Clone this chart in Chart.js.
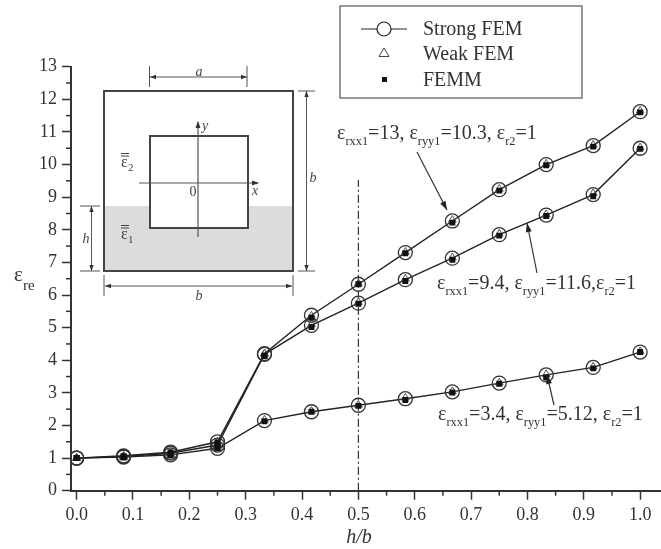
<!DOCTYPE html>
<html>
<head>
<meta charset="utf-8">
<title>Effective permittivity vs h/b</title>
<script src="https://cdn.jsdelivr.net/npm/chart.js@4/dist/chart.umd.js"></script>
<style>
  html, body { margin: 0; padding: 0; background: #fff; }
  canvas { display: block; }
</style>
</head>
<body>
<canvas id="myChart" width="661" height="549"></canvas>
<script>
// h/b values
const hOverB = [0, 0.0833, 0.1667, 0.25, 0.3333, 0.4167, 0.5, 0.5833, 0.6667, 0.75, 0.8333, 0.9167, 1];

// case A: erxx1=13, eryy1=10.3
const strongA = [1.0, 1.07, 1.18, 1.5, 4.2, 5.38, 6.33, 7.3, 8.27, 9.23, 10.0, 10.58, 11.62];
const weakA = [1.0, 1.07, 1.18, 1.5, 4.2, 5.36, 6.35, 7.32, 8.3, 9.25, 10.02, 10.6, 11.65];
const femmA = [1.0, 1.06, 1.17, 1.48, 4.15, 5.3, 6.33, 7.28, 8.22, 9.2, 9.98, 10.55, 11.6];

// case B: erxx1=9.4, eryy1=11.6
const strongB = [1.0, 1.05, 1.15, 1.4, 4.18, 5.07, 5.75, 6.47, 7.13, 7.85, 8.45, 9.08, 10.5];
const weakB = [1.0, 1.05, 1.15, 1.42, 4.2, 5.1, 5.78, 6.5, 7.15, 7.88, 8.47, 9.12, 10.52];
const femmB = [1.0, 1.04, 1.13, 1.38, 4.12, 5.02, 5.73, 6.43, 7.08, 7.82, 8.42, 9.03, 10.48];

// case C: erxx1=3.4, eryy1=5.12
const strongC = [1.0, 1.03, 1.1, 1.3, 2.15, 2.42, 2.62, 2.82, 3.03, 3.3, 3.55, 3.78, 4.25];
const weakC = [1.0, 1.03, 1.1, 1.32, 2.17, 2.44, 2.63, 2.85, 3.05, 3.31, 3.57, 3.8, 4.27];
const femmC = [1.0, 1.02, 1.09, 1.3, 2.13, 2.42, 2.6, 2.78, 3.01, 3.28, 3.47, 3.75, 4.25];

// tick labels
const xTicks = ['0.0', '0.1', '0.2', '0.3', '0.4', '0.5', '0.6', '0.7', '0.8', '0.9', '1.0'];
const yTicks = ['0', '1', '2', '3', '4', '5', '6', '7', '8', '9', '10', '11', '12', '13'];
const xMinorTicks = [0.05, 0.15, 0.25, 0.35, 0.45, 0.55, 0.65, 0.75, 0.85, 0.95];
const yMinorTicks = [0.5, 1.5, 2.5, 3.5, 4.5, 5.5, 6.5, 7.5, 8.5, 9.5, 10.5, 11.5, 12.5];

// dash-dot guide at h/b = 0.5
const guideX = [0.5, 0.5];
const guideY = [0, 9.53];

const serif = '"Liberation Serif", "Times New Roman", serif';
const inkColor = '#333';

function toPoints(xs, ys) {
  return xs.map(function (x, i) { return { x: x, y: ys[i] }; });
}

function strongSet(label, values) {
  return {
    label: label, data: toPoints(hOverB, values), showLine: true,
    borderColor: '#222', borderWidth: 1.4,
    pointStyle: 'circle', pointRadius: 7, pointBorderWidth: 1.3,
    pointBorderColor: '#333', pointBackgroundColor: 'rgba(0,0,0,0)', order: 3
  };
}

function weakSet(label, values) {
  return {
    label: label, data: toPoints(hOverB, values), showLine: false,
    pointStyle: 'triangle', pointRadius: 4.5, pointBorderWidth: 1,
    pointBorderColor: '#555', pointBackgroundColor: 'rgba(0,0,0,0)', order: 2
  };
}

function femmSet(label, values) {
  return {
    label: label, data: toPoints(hOverB, values), showLine: false,
    pointStyle: 'rect', pointRadius: 4.2, pointBorderWidth: 0,
    pointBackgroundColor: '#111', order: 1
  };
}

// Desenha uma sequencia de pedacos de texto, com subscrito quando sub = true
function drawRuns(ctx, x, y, runs, size) {
  ctx.textAlign = 'left';
  ctx.textBaseline = 'alphabetic';
  runs.forEach(function (run) {
    const isSub = run[1] === true;
    const fontSize = isSub ? size * 0.62 : size;
    ctx.font = fontSize + 'px ' + serif;
    ctx.fillText(run[0], x, isSub ? y + 6 : y);
    x += ctx.measureText(run[0]).width;
  });
}

function drawLine(ctx, x1, y1, x2, y2) {
  ctx.beginPath();
  ctx.moveTo(x1, y1);
  ctx.lineTo(x2, y2);
  ctx.stroke();
}

function drawHead(ctx, x1, y1, x2, y2, len, half) {
  const a = Math.atan2(y2 - y1, x2 - x1);
  ctx.beginPath();
  ctx.moveTo(x2, y2);
  ctx.lineTo(x2 - len * Math.cos(a) + half * Math.sin(a), y2 - len * Math.sin(a) - half * Math.cos(a));
  ctx.lineTo(x2 - len * Math.cos(a) - half * Math.sin(a), y2 - len * Math.sin(a) + half * Math.cos(a));
  ctx.closePath();
  ctx.fill();
}

function drawArrow(ctx, x1, y1, x2, y2) {
  drawLine(ctx, x1, y1, x2, y2);
  drawHead(ctx, x1, y1, x2, y2, 9, 3);
}

function drawDimension(ctx, x1, y1, x2, y2) {
  drawLine(ctx, x1, y1, x2, y2);
  drawHead(ctx, x2, y2, x1, y1, 6, 2.2);
  drawHead(ctx, x1, y1, x2, y2, 6, 2.2);
}

function drawTensor(ctx, x, y, sub) {
  ctx.font = '16px ' + serif;
  ctx.fillText('\u03b5', x, y);
  ctx.font = '11px ' + serif;
  ctx.fillText(sub, x + 7, y + 4);
  ctx.lineWidth = 1;
  drawLine(ctx, x, y - 11, x + 8, y - 11);
  drawLine(ctx, x, y - 13.5, x + 8, y - 13.5);
}

// Figura inserida (guia de onda) no canto superior esquerdo
function drawInset(ctx) {
  ctx.fillStyle = '#dcdcdc';
  ctx.fillRect(104, 206, 189, 65);
  ctx.fillStyle = '#fff';
  ctx.fillRect(150, 136, 98, 92);

  ctx.strokeStyle = '#444';
  ctx.lineWidth = 2;
  ctx.strokeRect(104, 91, 189, 180);
  ctx.strokeRect(150, 136, 98, 92);

  ctx.strokeStyle = '#555';
  ctx.fillStyle = '#333';
  ctx.lineWidth = 1.2;
  drawLine(ctx, 198, 237, 198, 122);
  drawHead(ctx, 198, 237, 198, 121, 7, 2.5);
  drawLine(ctx, 139, 183, 258, 183);
  drawHead(ctx, 139, 183, 259, 183, 7, 2.5);

  // cotas
  ctx.lineWidth = 1;
  drawLine(ctx, 149.5, 66, 149.5, 87);
  drawLine(ctx, 247, 66, 247, 87);
  drawDimension(ctx, 150, 77, 247, 77);
  drawLine(ctx, 298, 91, 315, 91);
  drawLine(ctx, 298, 271, 315, 271);
  drawDimension(ctx, 306.5, 91, 306.5, 271);
  drawLine(ctx, 80, 206, 100, 206);
  drawLine(ctx, 80, 271, 100, 271);
  drawDimension(ctx, 91.5, 206, 91.5, 271);
  drawLine(ctx, 104, 275, 104, 296);
  drawLine(ctx, 293, 275, 293, 296);
  drawDimension(ctx, 105, 286, 292, 286);

  ctx.fillStyle = '#444';
  ctx.textAlign = 'center';
  ctx.textBaseline = 'alphabetic';
  ctx.font = 'italic 14px ' + serif;
  ctx.fillText('a', 199, 76);
  ctx.fillText('b', 313, 182);
  ctx.fillText('h', 86, 243);
  ctx.fillText('b', 199, 300);
  ctx.fillText('y', 205, 130);
  ctx.fillText('x', 255, 195);
  ctx.font = '14px ' + serif;
  ctx.fillText('0', 193, 196);
  ctx.textAlign = 'left';
  ctx.strokeStyle = '#444';
  drawTensor(ctx, 121, 167, '2');
  drawTensor(ctx, 121, 239, '1');
}

function drawLegend(ctx) {
  ctx.strokeStyle = '#555';
  ctx.lineWidth = 1.2;
  ctx.strokeRect(340, 6, 242, 92);

  ctx.strokeStyle = '#222';
  ctx.lineWidth = 1.2;
  drawLine(ctx, 361, 29, 407, 29);
  ctx.fillStyle = '#fff';
  ctx.beginPath();
  ctx.arc(384, 29, 7, 0, Math.PI * 2);
  ctx.fill();
  ctx.stroke();

  ctx.strokeStyle = '#444';
  ctx.lineWidth = 1;
  ctx.beginPath();
  ctx.moveTo(384, 48);
  ctx.lineTo(389, 56.5);
  ctx.lineTo(379, 56.5);
  ctx.closePath();
  ctx.stroke();

  ctx.fillStyle = '#111';
  ctx.fillRect(382, 77, 5, 5);

  ctx.fillStyle = inkColor;
  ctx.font = '20px ' + serif;
  ctx.textAlign = 'left';
  ctx.textBaseline = 'alphabetic';
  ctx.fillText('Strong FEM', 423, 35);
  ctx.fillText('Weak FEM', 423, 60);
  ctx.fillText('FEMM', 423, 86);
}

// Rotulos, setas, marcas menores e figura
const decorations = {
  id: 'decorations',
  afterDatasetsDraw: function (chart) {
    const ctx = chart.ctx;
    const xScale = chart.scales.x;
    const yScale = chart.scales.y;
    ctx.save();

    // marcas menores dos eixos
    ctx.strokeStyle = inkColor;
    ctx.lineWidth = 1.5;
    xMinorTicks.forEach(function (v) {
      const px = xScale.getPixelForValue(v);
      drawLine(ctx, px, yScale.bottom, px, yScale.bottom + 5);
    });
    yMinorTicks.forEach(function (v) {
      const py = yScale.getPixelForValue(v);
      drawLine(ctx, xScale.left, py, xScale.left - 5, py);
    });

    drawInset(ctx);
    drawLegend(ctx);

    // titulos dos eixos
    ctx.fillStyle = inkColor;
    ctx.textAlign = 'left';
    ctx.textBaseline = 'alphabetic';
    ctx.font = '21px ' + serif;
    ctx.fillText('\u03b5', 14, 281);
    ctx.font = '15px ' + serif;
    ctx.fillText('re', 23, 290);
    ctx.font = 'italic 20px ' + serif;
    ctx.textAlign = 'center';
    ctx.fillText('h/b', 359, 543);

    // anotacoes das curvas
    ctx.fillStyle = inkColor;
    drawRuns(ctx, 337, 139, [['\u03b5'], ['rxx1', true], ['=13, \u03b5'], ['ryy1', true], ['=10.3, \u03b5'], ['r2', true], ['=1']], 20);
    drawRuns(ctx, 437, 289, [['\u03b5'], ['rxx1', true], ['=9.4, \u03b5'], ['ryy1', true], ['=11.6,\u03b5'], ['r2', true], ['=1']], 20);
    drawRuns(ctx, 438, 420, [['\u03b5'], ['rxx1', true], ['=3.4, \u03b5'], ['ryy1', true], ['=5.12, \u03b5'], ['r2', true], ['=1']], 20);

    // setas
    ctx.strokeStyle = '#333';
    ctx.fillStyle = '#222';
    ctx.lineWidth = 1.2;
    drawArrow(ctx, 417, 152, 447, 210);
    drawArrow(ctx, 537, 273, 527, 223);
    drawArrow(ctx, 554, 405, 547, 375);

    ctx.restore();
  }
};

const datasets = [
  femmSet('FEMM A', femmA), weakSet('Weak FEM A', weakA), strongSet('Strong FEM A', strongA),
  femmSet('FEMM B', femmB), weakSet('Weak FEM B', weakB), strongSet('Strong FEM B', strongB),
  femmSet('FEMM C', femmC), weakSet('Weak FEM C', weakC), strongSet('Strong FEM C', strongC),
  {
    label: 'h/b = 0.5', data: toPoints(guideX, guideY), showLine: true,
    borderColor: '#333', borderWidth: 1.2, borderDash: [8, 3, 2, 3],
    pointRadius: 0, order: 4
  }
];

const tickFont = { family: serif, size: 18 };

const options = {
  responsive: false,
  animation: false,
  layout: { autoPadding: false, padding: { top: 66.7, left: 0, right: 0, bottom: 0 } },
  plugins: { legend: { display: false }, tooltip: { enabled: false }, title: { display: false } },
  scales: {
    x: {
      type: 'linear',
      min: -0.01,
      max: 1.037,
      afterFit: function (scale) {
        scale.height = 58.3;
        scale.paddingLeft = 0;
        scale.paddingRight = 0;
      },
      afterBuildTicks: function (scale) {
        scale.ticks = xTicks.map(function (t) { return { value: parseFloat(t) }; });
      },
      border: { color: inkColor, width: 2 },
      grid: { drawOnChartArea: false, drawTicks: true, tickLength: 9, tickWidth: 1.5, tickColor: inkColor },
      ticks: {
        autoSkip: false, maxRotation: 0, padding: 5, color: inkColor, font: tickFont,
        callback: function (value) { return value.toFixed(1); }
      }
    },
    y: {
      type: 'linear',
      min: 0,
      max: 13,
      afterFit: function (scale) {
        scale.width = 71;
        scale.paddingTop = 0;
        scale.paddingBottom = 0;
      },
      afterBuildTicks: function (scale) {
        scale.ticks = yTicks.map(function (t) { return { value: parseInt(t, 10) }; });
      },
      border: { color: inkColor, width: 2 },
      grid: { drawOnChartArea: false, drawTicks: true, tickLength: 9, tickWidth: 1.5, tickColor: inkColor },
      ticks: { autoSkip: false, padding: 5, color: inkColor, font: tickFont }
    }
  }
};

// Cria o grafico
const ctx = document.getElementById('myChart').getContext('2d');
const myChart = new Chart(ctx, {
  type: 'scatter',
  data: { datasets: datasets },
  options: options,
  plugins: [decorations]
});
</script>
</body>
</html>
